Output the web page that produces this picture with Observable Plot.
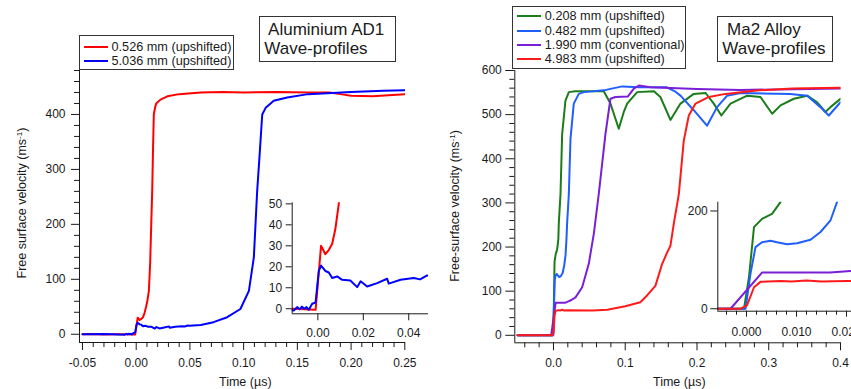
<!DOCTYPE html>
<html><head><meta charset="utf-8">
<script src="https://cdn.jsdelivr.net/npm/d3@7"></script>
<script src="https://cdn.jsdelivr.net/npm/@observablehq/plot@0.6"></script>
<style>
body{margin:0;background:#fff;}
#wrap{position:relative;width:851px;height:389px;overflow:hidden;font-family:"Liberation Sans",Arial,sans-serif;color:#1a1a1a;background:#fff;}
#wrap svg{position:absolute;left:0;top:0;}
.box{position:absolute;border:1px solid #333;background:#fff;box-sizing:border-box;}
.row{position:absolute;left:0;height:16px;line-height:16px;font-size:12.7px;white-space:nowrap;}
.row .ln{position:absolute;top:7px;height:2px;}
.row .tx{position:absolute;}
.title{font-size:17px;line-height:19.3px;white-space:pre;padding:2.5px 0 0 4px;}
.lab{position:absolute;white-space:nowrap;font-size:12.5px;transform:translate(-50%,-50%);}
.lab.rot{transform:translate(-50%,-50%) rotate(-90deg);}
sup{font-size:0.65em;vertical-align:0.55em;line-height:0;}
</style></head>
<body><div id="wrap"></div>
<script>
// ---------- DATA ----------
const leftSeries = ["0.526 mm (upshifted)", "5.036 mm (upshifted)"];
const leftColors = ["#ff0000", "#0000ff"];
const al526 = [[-0.05,0],[-0.04,0.3],[-0.03,-0.3],[-0.02,0.2],[-0.011,0],[-0.001,-0.5],[0.0014,30],[0.0033,26],[0.0048,28],[0.0063,31],[0.0077,38],[0.0092,50],[0.0105,62],[0.0118,79],[0.013,130],[0.014,200],[0.0149,261],[0.0157,340],[0.0164,400],[0.0175,412],[0.0186,420],[0.0226,427],[0.029,433],[0.04,437],[0.06,440],[0.08,441],[0.1,440],[0.13,441],[0.16,440],[0.18,440],[0.19,437],[0.2,434],[0.22,433],[0.235,435],[0.25,437]];
const al5036 = [[-0.05,0],[-0.03,0.3],[-0.0106,-0.8],[-0.009,0.8],[-0.008,-0.3],[-0.007,1],[-0.006,0],[-0.005,0.8],[-0.004,-0.5],[-0.0025,2.4],[-0.001,3],[0.0004,18],[0.0014,20.6],[0.0033,18],[0.0048,17.3],[0.0063,14.7],[0.0085,15.4],[0.0107,13.8],[0.0143,13.5],[0.0173,10.3],[0.0188,13.1],[0.0217,10.6],[0.0261,12.2],[0.0305,14.3],[0.0312,12],[0.0364,13.8],[0.0422,14.7],[0.045,14],[0.0481,15.9],[0.0495,15.4],[0.06,17],[0.072,22],[0.0847,31],[0.097,46],[0.1049,79],[0.1095,140],[0.1126,261],[0.115,330],[0.1173,400],[0.1205,412],[0.128,425],[0.1405,431],[0.16,437],[0.2,441],[0.23,443],[0.25,444]];

const rightSeries = ["0.208 mm (upshifted)", "0.482 mm (upshifted)", "1.990 mm (conventional)", "4.983 mm (upshifted)"];
const rightColors = ["#1a7d1a", "#1f5fff", "#7a1fd6", "#ff1a1a"];
const ma208 = [[-0.05,0],[-0.0005,0],[0.0005,65],[0.0015,167],[0.0031,184],[0.0051,194],[0.0068,218],[0.0074,253],[0.0098,320],[0.0121,456],[0.0167,532],[0.0214,551],[0.03,553],[0.05,553],[0.0701,553],[0.0794,525],[0.091,468],[0.098,506],[0.1027,525],[0.1166,551],[0.14,553],[0.149,540],[0.163,488],[0.177,525],[0.1955,547],[0.212,549],[0.2234,525],[0.234,498],[0.2467,525],[0.27,543],[0.2885,540],[0.3048,502],[0.3164,521],[0.335,536],[0.3536,543],[0.3675,528],[0.379,506],[0.386,517],[0.4,536]];
const ma482 = [[-0.05,0],[-0.0002,0],[0.0008,72],[0.0018,126],[0.0031,136],[0.0048,139],[0.0061,136],[0.0081,132],[0.0101,134],[0.0128,141],[0.0148,157],[0.0168,181],[0.0181,218],[0.019,253],[0.0214,320],[0.0237,445],[0.0283,525],[0.0353,547],[0.0423,551],[0.07,555],[0.0957,564],[0.12,562],[0.158,562],[0.17,552],[0.177,543],[0.1955,510],[0.214,475],[0.228,517],[0.242,543],[0.2606,549],[0.33,547],[0.3536,543],[0.372,517],[0.3837,498],[0.4,528]];
const ma1990 = [[-0.05,0],[-0.0032,0],[0.0031,74],[0.0167,74],[0.0208,77],[0.025,80],[0.0307,86],[0.04,109],[0.0492,162],[0.0562,230],[0.0631,320],[0.0725,457],[0.0794,536],[0.0864,540],[0.1035,541],[0.112,559],[0.119,566],[0.135,562],[0.2,558],[0.26,556],[0.4,559]];
const ma4983 = [[-0.05,0],[-0.0012,0],[0.0001,7],[0.0015,44],[0.0028,55],[0.0068,57],[0.009,56],[0.012,58],[0.015,56],[0.02,57],[0.054,56],[0.075,58],[0.1,66],[0.121,75],[0.128,86],[0.142,112],[0.1515,162],[0.1585,188],[0.163,203],[0.1677,253],[0.1747,320],[0.1816,441],[0.1886,498],[0.198,525],[0.2165,540],[0.24,547],[0.286,555],[0.333,559],[0.4,561]];

// tick values
const alMainXMajor = [-0.05,0,0.05,0.1,0.15,0.2,0.25];
const alMainXMinor = [-0.04,-0.03,-0.02,-0.01,0.01,0.02,0.03,0.04,0.06,0.07,0.08,0.09,0.11,0.12,0.13,0.14,0.16,0.17,0.18,0.19,0.21,0.22,0.23,0.24];
const alMainYMajor = [0,100,200,300,400];
const alMainYMinor = [20,40,60,80,120,140,160,180,220,240,260,280,320,340,360,380,420,440,460,480];
const alInXMajor = [0,0.02,0.04];
const alInYMajor = [0,10,20,30,40,50];
const maMainXMajor = [0,0.1,0.2,0.3,0.4];
const maMainXMinor = [-0.04,-0.02,0.02,0.04,0.06,0.08,0.12,0.14,0.16,0.18,0.22,0.24,0.26,0.28,0.32,0.34,0.36,0.38];
const maMainYMajor = [0,100,200,300,400,500,600];
const maMainYMinor = [20,40,60,80,120,140,160,180,220,240,260,280,320,340,360,380,420,440,460,480,520,540,560,580];
const maInXMajor = [0,0.01,0.02];
const maInXMinor = [-0.004,-0.002,0.002,0.004,0.006,0.008,0.012,0.014,0.016,0.018];
const maInYMajor = [0,200];

// ---------- RENDER ----------
const W = 851, H = 389;
const FONT = '"Liberation Sans", Arial, sans-serif';
const INK = "#1a1a1a";
const wrap = document.getElementById("wrap");

function panel(c) {
  const marks = [];
  for (const s of c.series) marks.push(Plot.line(s.data, {x: d => d[0], y: d => d[1], stroke: s.color, strokeWidth: c.sw, clip: true}));
  marks.push(Plot.ruleX([c.xd[0]], {stroke: INK, strokeWidth: 1}));
  marks.push(Plot.ruleY([c.yd[0]], {stroke: INK, strokeWidth: 1}));
  marks.push(Plot.axisX(c.xMajor, {anchor: "bottom", tickSize: c.xts, tickPadding: c.xtp, tickFormat: c.xfmt, label: null, stroke: INK, fill: INK, fontSize: 12}));
  if (c.xMinor) marks.push(Plot.axisX(c.xMinor, {anchor: "bottom", tickSize: c.xmts, tickFormat: () => "", label: null, stroke: INK}));
  marks.push(Plot.axisY(c.yMajor, {anchor: "left", tickSize: c.yts, tickPadding: c.ytp, tickFormat: d => String(d), label: null, stroke: INK, fill: INK, fontSize: 12}));
  if (c.yMinor) marks.push(Plot.axisY(c.yMinor, {anchor: "left", tickSize: 5, tickFormat: () => "", label: null, stroke: INK}));
  const svg = Plot.plot({
    width: W, height: H,
    marginLeft: c.x0, marginRight: W - c.x1, marginTop: c.y0, marginBottom: H - c.y1,
    x: {domain: c.xd}, y: {domain: c.yd},
    style: {background: "transparent", fontFamily: FONT, fontSize: "12px", color: INK},
    marks
  });
  wrap.appendChild(svg);
}

const f2 = d => d.toFixed(2), f1 = d => d.toFixed(1), f3 = d => d.toFixed(3);

panel({x0: 79, x1: 405, y0: 70, y1: 342, xd: [-0.05277, 0.25065], yd: [-15, 480], sw: 2,
  series: [{data: al526, color: leftColors[0]}, {data: al5036, color: leftColors[1]}],
  xMajor: alMainXMajor, xMinor: alMainXMinor, xts: 8, xmts: 5, xtp: 8, xfmt: f2,
  yMajor: alMainYMajor, yMinor: alMainYMinor, yts: 8, ytp: 6});
panel({x0: 291.7, x1: 428, y0: 202.3, y1: 313.3, xd: [-0.0113, 0.0487], yd: [-2.4, 50.5], sw: 2,
  series: [{data: al526, color: leftColors[0]}, {data: al5036, color: leftColors[1]}],
  xMajor: alInXMajor, xts: 7, xtp: 8, xfmt: f2,
  yMajor: alInYMajor, yts: 6, ytp: 4});
panel({x0: 514.3, x1: 840.5, y0: 70, y1: 342.3, xd: [-0.0539, 0.4007], yd: [-17, 600], sw: 2,
  series: [{data: ma208, color: rightColors[0]}, {data: ma482, color: rightColors[1]}, {data: ma1990, color: rightColors[2]}, {data: ma4983, color: rightColors[3]}],
  xMajor: maMainXMajor, xMinor: maMainXMinor, xts: 8, xmts: 5, xtp: 8, xfmt: f1,
  yMajor: maMainYMajor, yMinor: maMainYMinor, yts: 9, ytp: 4});
panel({x0: 717.3, x1: 851, y0: 201.7, y1: 310.7, xd: [-0.00574, 0.021], yd: [-5, 218], sw: 2,
  series: [{data: ma208, color: rightColors[0]}, {data: ma482, color: rightColors[1]}, {data: ma1990, color: rightColors[2]}, {data: ma4983, color: rightColors[3]}],
  xMajor: maInXMajor, xMinor: maInXMinor, xts: 6, xmts: 4, xtp: 10, xfmt: f3,
  yMajor: maInYMajor, yts: 7, ytp: 3});

// ---------- LEGENDS / TITLES / AXIS LABELS ----------
function legend(left, top, w, h, names, colors, rows, lineX, lineW, textX) {
  const b = document.createElement("div");
  b.className = "box";
  Object.assign(b.style, {left: left + "px", top: top + "px", width: w + "px", height: h + "px"});
  names.forEach((n, i) => {
    const r = document.createElement("div");
    r.className = "row";
    r.style.top = (rows[i] - 9) + "px";
    r.innerHTML = `<div class="ln" style="left:${lineX}px;width:${lineW}px;background:${colors[i]}"></div><div class="tx" style="left:${textX}px">${n}</div>`;
    b.appendChild(r);
  });
  wrap.appendChild(b);
}
legend(79, 35, 155, 35, leftSeries, leftColors, [11.7, 25.7], 3.5, 24, 31.5);
legend(512, 6, 174, 63, rightSeries, rightColors, [10, 24.7, 39.3, 53.3], 4, 23.5, 31.8);

function title(left, top, w, h, text) {
  const b = document.createElement("div");
  b.className = "box title";
  Object.assign(b.style, {left: left + "px", top: top + "px", width: w + "px", height: h + "px"});
  b.textContent = text;
  wrap.appendChild(b);
}
title(259.3, 16, 137, 46, " Aluminium AD1\nWave-profiles");
title(717.3, 16, 116, 46, " Ma2 Alloy\nWave-profiles");

function label(x, y, html, rot) {
  const d = document.createElement("div");
  d.className = "lab" + (rot ? " rot" : "");
  Object.assign(d.style, {left: x + "px", top: y + "px"});
  d.innerHTML = html;
  wrap.appendChild(d);
}
label(22, 203, "Free surface velocity (ms<sup>-1</sup>)", true);
label(455, 206, "Free-surface velocity (ms<sup>-1</sup>)", true);
label(245.3, 381.5, "Time (µs)");
label(679.3, 381.5, "Time (µs)");
</script></body></html>
